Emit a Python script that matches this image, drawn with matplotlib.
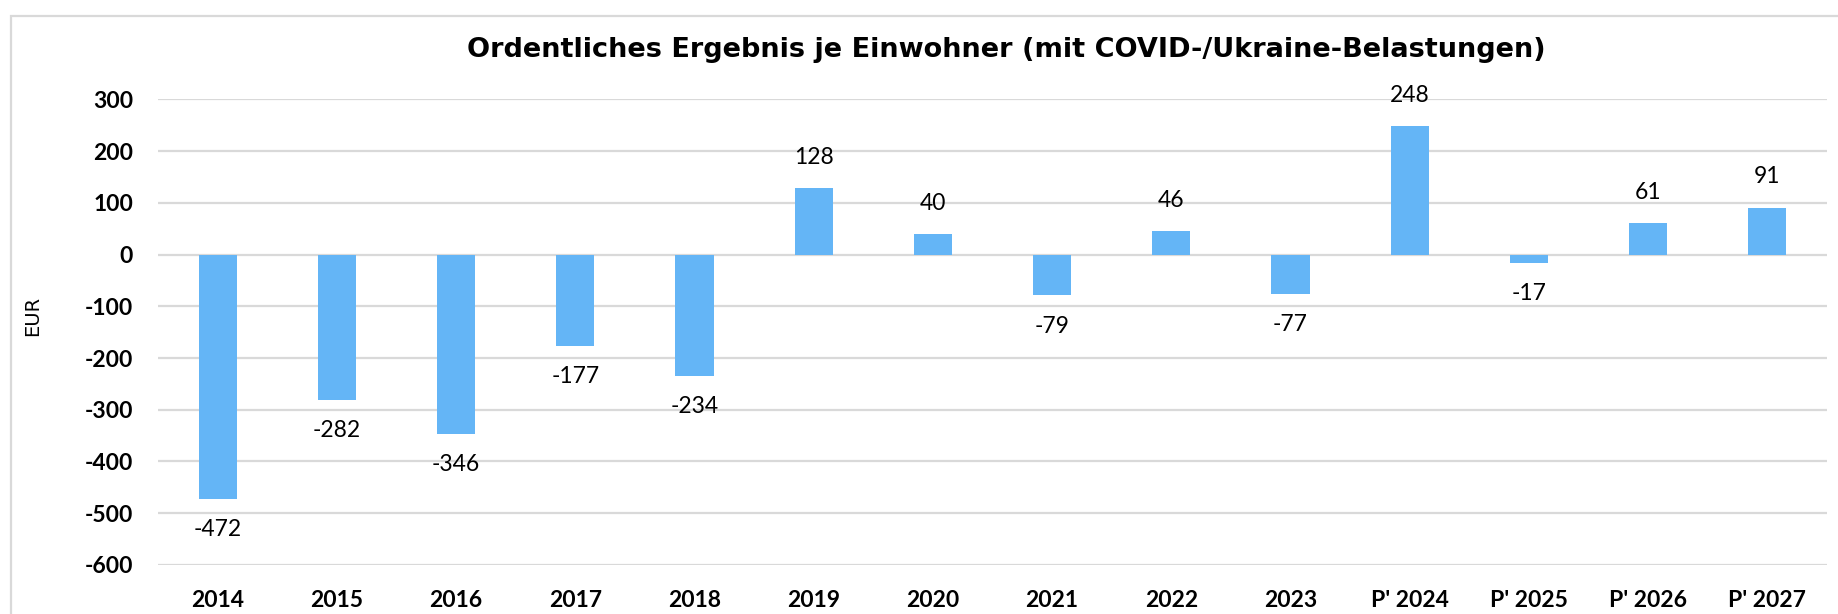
import matplotlib
matplotlib.use("Agg")
import matplotlib.pyplot as plt
from matplotlib.patches import Rectangle

kategorien = ["2014", "2015", "2016", "2017", "2018", "2019", "2020", "2021",
              "2022", "2023", "P' 2024", "P' 2025", "P' 2026", "P' 2027"]
werte = [-472, -282, -346, -177, -234, 128, 40, -79, 46, -77, 248, -17, 61, 91]
yticks = [300, 200, 100, 0, -100, -200, -300, -400, -500, -600]

titel = "Ordentliches Ergebnis je Einwohner (mit COVID-/Ukraine-Belastungen)"
farbe = "#64B5F6"
grau = "#d9d9d9"

fig = plt.figure(figsize=(18.38, 6.14), dpi=100)
ax = fig.add_axes([0.086, 0.080, 0.908, 0.758])

x = list(range(len(kategorien)))
ax.bar(x, werte, width=0.32, color=farbe, zorder=3)

for xi, v in zip(x, werte):
    off = 22 if v >= 0 else -22
    ax.annotate(str(v), (xi, v), xytext=(0, off), textcoords="offset points",
                ha="center", va="center", fontsize=16.5, family="Lato",
                color="black", annotation_clip=False)

ax.set_xlim(-0.5, len(kategorien) - 0.5)
ax.set_ylim(-600, 300)
ax.set_yticks(yticks)
ax.set_xticks(x)
ax.set_xticklabels(kategorien, fontsize=16.5, fontweight="bold", family="Lato")
ax.set_yticklabels([str(t) for t in yticks], fontsize=16.5, fontweight="bold", family="Lato")
ax.tick_params(axis="both", length=0)
ax.tick_params(axis="x", pad=18)
ax.tick_params(axis="y", pad=18)
ax.grid(axis="y", color=grau, linewidth=1.6, zorder=0)
for s in ax.spines.values():
    s.set_visible(False)

fig.text(33 / 1838, 1 - 316 / 614, "EUR", rotation=90, ha="center", va="center",
         fontsize=14, family="DejaVu Sans")
fig.text(1006 / 1838, 1 - 50 / 614, titel, ha="center", va="center",
         fontsize=19.5, fontweight="bold", family="DejaVu Sans")

# Rahmen (rechts und unten abgeschnitten)
fig.patches.append(Rectangle((11 / 1838, -0.1), 1.2, 1 - 16 / 614 + 0.1,
                             transform=fig.transFigure, fill=False,
                             edgecolor=grau, linewidth=1.6))

fig.savefig("out.png", dpi=100)
